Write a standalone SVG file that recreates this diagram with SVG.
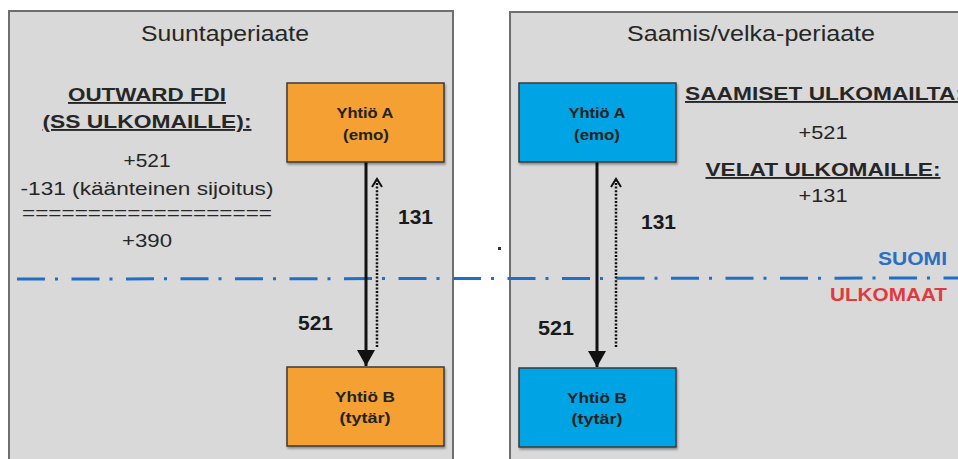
<svg xmlns="http://www.w3.org/2000/svg" width="958" height="459" viewBox="0 0 958 459">
<defs>
<style>
text{font-family:"Liberation Sans",Arial,sans-serif}
.panel{fill:#d9d9d9;stroke:#6f6f6f;stroke-width:2}
.title{font-size:22px;fill:#262626;text-anchor:middle}
.hd{font-size:19px;font-weight:bold;fill:#262626;text-decoration:underline}
.num{font-size:19px;fill:#262626;text-anchor:middle}
.lbl{font-size:20px;font-weight:bold;fill:#1a1a1a}
.box{stroke:#3a3a3a;stroke-width:1.5}
.orange{fill:#f4a033}
.blue{fill:#00a3e3}
.bt{font-size:15px;font-weight:bold;fill:#222;text-anchor:middle}
.solid{stroke:#111;stroke-width:3;fill:none}
.dotted{stroke:#111;stroke-width:2.5;stroke-dasharray:2 1.6;fill:none}
</style>
<marker id="tri" markerWidth="18" markerHeight="18" refX="16" refY="9" orient="auto" markerUnits="userSpaceOnUse" viewBox="0 0 18 18">
<path d="M0,0 L16,9 L0,18 Z" fill="#111"/>
</marker>
<marker id="openhead" markerWidth="12" markerHeight="12" refX="9" refY="6" orient="auto" markerUnits="userSpaceOnUse" viewBox="0 0 12 12">
<path d="M1,1 L9,6 L1,11" fill="none" stroke="#111" stroke-width="2"/>
</marker>
<filter id="sh" x="-5%" y="-5%" width="110%" height="115%">
<feDropShadow dx="1" dy="2" stdDeviation="1" flood-color="#000" flood-opacity="0.35"/>
</filter>
</defs>
<rect width="958" height="459" fill="#ffffff"/>
<g id="panel-left">
<rect class="panel" x="9" y="11" width="444" height="460"/>
<text class="title" x="225" y="41" textLength="168" lengthAdjust="spacingAndGlyphs">Suuntaperiaate</text>
<text class="hd" x="147" y="101" text-anchor="middle" textLength="158" lengthAdjust="spacingAndGlyphs">OUTWARD FDI</text>
<text class="hd" x="147" y="128" text-anchor="middle" textLength="209" lengthAdjust="spacingAndGlyphs">(SS ULKOMAILLE):</text>
<text class="num" x="147" y="167" textLength="47" lengthAdjust="spacingAndGlyphs">+521</text>
<text class="num" x="147" y="195" textLength="253" lengthAdjust="spacingAndGlyphs">-131 (käänteinen sijoitus)</text>
<text class="num" x="147" y="219" textLength="250" lengthAdjust="spacingAndGlyphs">===================</text>
<text class="num" x="147" y="247" textLength="50" lengthAdjust="spacingAndGlyphs">+390</text>
</g>
<g id="panel-right">
<rect class="panel" x="510" y="12" width="460" height="460"/>
<text class="title" x="751" y="41" textLength="248" lengthAdjust="spacingAndGlyphs">Saamis/velka-periaate</text>
<text class="hd" x="685" y="100" textLength="278" lengthAdjust="spacingAndGlyphs">SAAMISET ULKOMAILTA:</text>
<text class="num" x="823" y="139" textLength="49" lengthAdjust="spacingAndGlyphs">+521</text>
<text class="hd" x="823" y="176" text-anchor="middle" textLength="235" lengthAdjust="spacingAndGlyphs">VELAT ULKOMAILLE:</text>
<text class="num" x="823" y="202" textLength="49" lengthAdjust="spacingAndGlyphs">+131</text>
</g>
<g id="border-line">
<line x1="17" y1="279" x2="958" y2="278" stroke="#1f6fc6" stroke-width="3" stroke-dasharray="28 10 3 13.5"/>
<text x="947" y="265" font-size="19" font-weight="bold" fill="#2a6fc0" text-anchor="end" textLength="69" lengthAdjust="spacingAndGlyphs">SUOMI</text>
<text x="830" y="301" font-size="19" font-weight="bold" fill="#e0393e" textLength="117" lengthAdjust="spacingAndGlyphs">ULKOMAAT</text>
<rect x="498" y="247" width="3" height="3" fill="#333"/>
</g>
<g id="connectors">
<line class="solid" x1="366" y1="162" x2="366" y2="366" marker-end="url(#tri)"/>
<line class="dotted" x1="377" y1="347" x2="377" y2="179" marker-end="url(#openhead)"/>
<text class="lbl" x="398" y="224" textLength="35" lengthAdjust="spacingAndGlyphs">131</text>
<text class="lbl" x="298" y="330" textLength="35" lengthAdjust="spacingAndGlyphs">521</text>
<line class="solid" x1="597" y1="162" x2="597" y2="367" marker-end="url(#tri)"/>
<line class="dotted" x1="616" y1="347" x2="616" y2="179" marker-end="url(#openhead)"/>
<text class="lbl" x="641" y="229" textLength="35" lengthAdjust="spacingAndGlyphs">131</text>
<text class="lbl" x="538" y="335" textLength="36" lengthAdjust="spacingAndGlyphs">521</text>
</g>
<g id="node-left-a">
<rect class="box orange" x="287" y="83" width="157" height="79" filter="url(#sh)"/>
<text class="bt" x="365" y="118" textLength="57" lengthAdjust="spacingAndGlyphs">Yhtiö A</text>
<text class="bt" x="366" y="140" textLength="46" lengthAdjust="spacingAndGlyphs">(emo)</text>
</g>
<g id="node-left-b">
<rect class="box orange" x="287" y="367" width="157" height="79" filter="url(#sh)"/>
<text class="bt" x="365" y="402" textLength="60" lengthAdjust="spacingAndGlyphs">Yhtiö B</text>
<text class="bt" x="365" y="423" textLength="51" lengthAdjust="spacingAndGlyphs">(tytär)</text>
</g>
<g id="node-right-a">
<rect class="box blue" x="519" y="83" width="157" height="79" filter="url(#sh)"/>
<text class="bt" x="597" y="118" textLength="57" lengthAdjust="spacingAndGlyphs">Yhtiö A</text>
<text class="bt" x="597" y="140" textLength="46" lengthAdjust="spacingAndGlyphs">(emo)</text>
</g>
<g id="node-right-b">
<rect class="box blue" x="519" y="368" width="157" height="79" filter="url(#sh)"/>
<text class="bt" x="597" y="403" textLength="60" lengthAdjust="spacingAndGlyphs">Yhtiö B</text>
<text class="bt" x="597" y="424" textLength="51" lengthAdjust="spacingAndGlyphs">(tytär)</text>
</g>
</svg>
